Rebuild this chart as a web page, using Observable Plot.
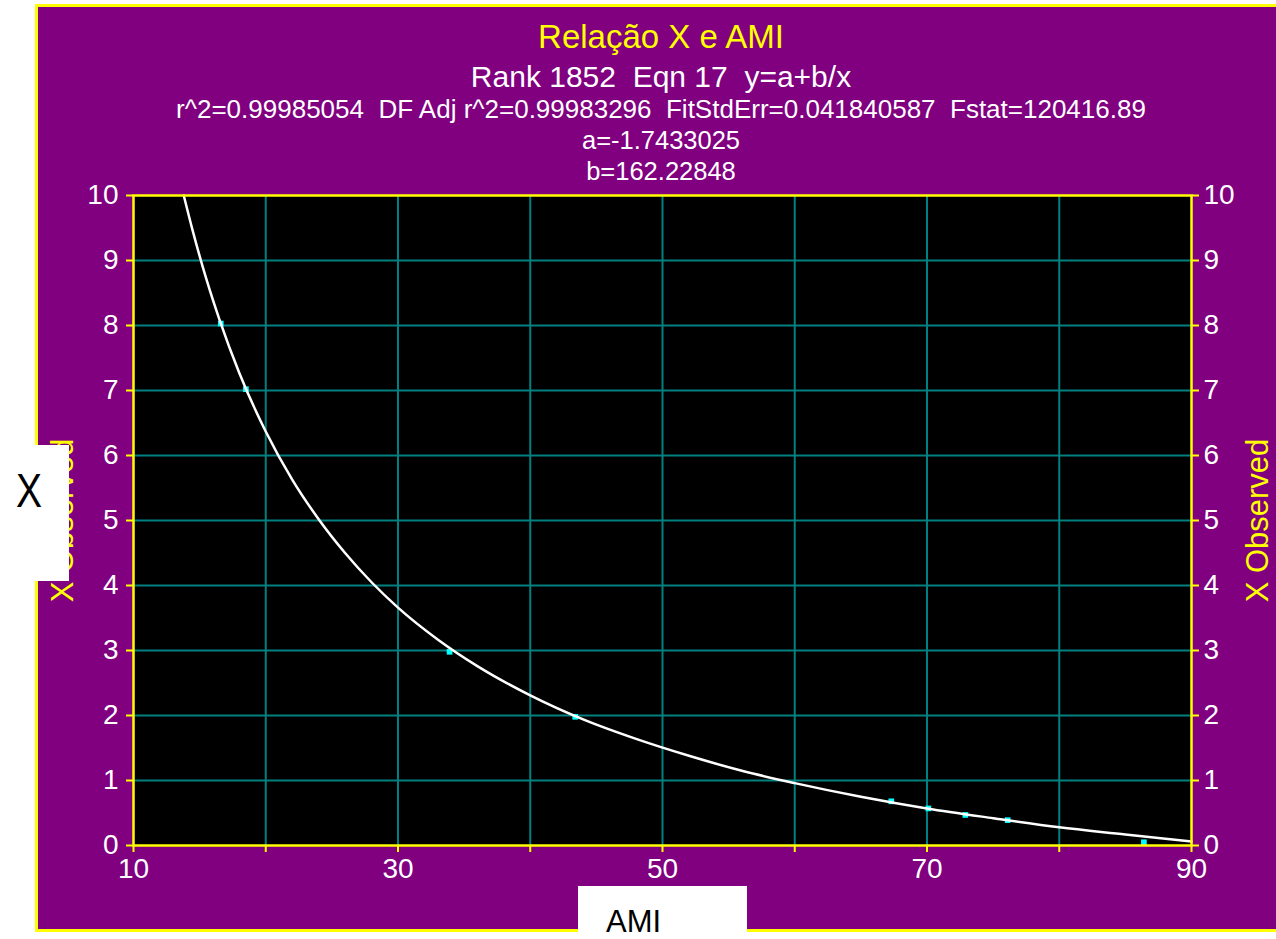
<!DOCTYPE html>
<html>
<head>
<meta charset="utf-8">
<script src="https://cdn.jsdelivr.net/npm/d3@7"></script>
<script src="https://cdn.jsdelivr.net/npm/@observablehq/plot@0.6"></script>
<style>
  html, body { margin: 0; padding: 0; background: #ffffff; width: 1276px; height: 939px; overflow: hidden; }
  body { position: relative; font-family: "Liberation Sans", Arial, sans-serif; }
  #panel { position: absolute; left: 35px; top: 4px; width: 1300px; height: 922px; background: #800080; border: 3px solid #ffff00; }
  .hdr { position: absolute; left: 661px; transform: translateX(-50%); white-space: pre; line-height: 1; color: #ffffff; }
  #chart { position: absolute; left: 38px; top: 185px; width: 1238px; height: 743px; }
  .box { position: absolute; background: #ffffff; overflow: hidden; }
  .boxtxt { position: absolute; white-space: pre; line-height: 1; color: #000000; transform-origin: top left; }
</style>
</head>
<body>
<div id="panel"></div>
<div class="hdr" id="t1" style="top:20px; font-size:33px; color:#ffff00;"></div>
<div class="hdr" id="t2" style="top:62px; font-size:30px;"></div>
<div class="hdr" id="t3" style="top:96px; font-size:26px;"></div>
<div class="hdr" id="t4" style="top:128px; font-size:25.5px;"></div>
<div class="hdr" id="t5" style="top:159px; font-size:25.5px;"></div>
<div id="chart"></div>
<div class="box" style="left:0px; top:445px; width:69px; height:136px;"><span class="boxtxt" id="bx" style="left:16px; top:22px; font-size:39px; transform: scaleY(1.22);"></span></div>
<div class="box" style="left:578px; top:886px; width:169px; height:60px;"><span class="boxtxt" id="by" style="left:28px; top:20px; font-size:31px;"></span></div>
<script>
// ---- text ----
const titleText = "Relação X e AMI";
const subtitleLines = [
  "Rank 1852  Eqn 17  y=a+b/x",
  "r^2=0.99985054  DF Adj r^2=0.99983296  FitStdErr=0.041840587  Fstat=120416.89",
  "a=-1.7433025",
  "b=162.22848"
];
const yAxisLabel = "X Observed";
const boxYLabel = "X";
const boxXLabel = "AMI";

// ---- axes ----
const xTicks = [10, 20, 30, 40, 50, 60, 70, 80, 90];
const xTickLabels = [10, 30, 50, 70, 90];
const yTicks = [0, 1, 2, 3, 4, 5, 6, 7, 8, 9, 10];
const xGrid = [20, 30, 40, 50, 60, 70, 80];
const yGrid = [1, 2, 3, 4, 5, 6, 7, 8, 9];

// ---- fitted curve ----
const curveX = [13.8, 14.5, 15.5, 16.5, 18, 20, 22, 24, 26, 28, 30, 33, 36, 40, 44, 48, 52, 56, 60, 65, 70, 75, 80, 85, 90];
const curveY = [10.0, 9.44, 8.72, 8.09, 7.27, 6.37, 5.63, 5.02, 4.50, 4.05, 3.66, 3.17, 2.76, 2.31, 1.94, 1.64, 1.38, 1.15, 0.96, 0.75, 0.57, 0.42, 0.28, 0.17, 0.06];

// ---- observed points ----
const obsX = [16.6, 18.5, 33.9, 43.4, 67.3, 70.1, 72.9, 76.1, 86.4];
const obsY = [8.03, 7.02, 2.98, 1.98, 0.68, 0.57, 0.47, 0.39, 0.05];

document.getElementById("t1").textContent = titleText;
["t2", "t3", "t4", "t5"].forEach((id, i) => document.getElementById(id).textContent = subtitleLines[i]);
document.getElementById("bx").textContent = boxYLabel;
document.getElementById("by").textContent = boxXLabel;

const curve = curveX.map((x, i) => ({x, y: curveY[i]}));
const obs = obsX.map((x, i) => ({x, y: obsY[i]}));

const YEL = "#ffff00", TEAL = "#008080", FONT = "Liberation Sans, Arial, sans-serif";

const chart = Plot.plot({
  width: 1238,
  height: 743,
  marginLeft: 95,
  marginRight: 85,
  marginTop: 10,
  marginBottom: 83,
  style: {background: "transparent", overflow: "visible", fontFamily: FONT},
  x: {domain: [10, 90]},
  y: {domain: [0, 10]},
  marks: [
    Plot.frame({fill: "black"}),
    Plot.ruleX(xGrid, {x: d => d, stroke: TEAL, strokeWidth: 2}),
    Plot.ruleY(yGrid, {y: d => d, stroke: TEAL, strokeWidth: 2}),
    Plot.dot(obs, {x: "x", y: "y", symbol: "square", r: 3.2, fill: "#00ffff", stroke: null}),
    Plot.line(curve, {x: "x", y: "y", stroke: "white", strokeWidth: 2.5, curve: "monotone-x"}),
    Plot.frame({stroke: YEL, strokeWidth: 2.5}),
    Plot.axisX({ticks: xTicks, tickFormat: d => xTickLabels.includes(d) ? String(d) : "", tickSize: 7, tickPadding: 6,
      stroke: YEL, strokeWidth: 2, fill: "white", fontSize: 28, fontFamily: FONT, label: null}),
    Plot.axisY({anchor: "left", ticks: yTicks, tickFormat: d => String(d), tickSize: 7, tickPadding: 8,
      stroke: YEL, strokeWidth: 2, fill: "white", fontSize: 28, fontFamily: FONT, label: null}),
    Plot.axisY({anchor: "right", ticks: yTicks, tickFormat: d => String(d), tickSize: 7, tickPadding: 5,
      stroke: YEL, strokeWidth: 2, fill: "white", fontSize: 28, fontFamily: FONT, label: null}),
    Plot.text([yAxisLabel], {text: d => d, frameAnchor: "left", dx: -70, rotate: -90, fill: YEL, fontSize: 31, fontFamily: FONT, textAnchor: "middle", lineAnchor: "middle"}),
    Plot.text([yAxisLabel], {text: d => d, frameAnchor: "right", dx: 67, rotate: -90, fill: YEL, fontSize: 31, fontFamily: FONT, textAnchor: "middle", lineAnchor: "middle"})
  ]
});
document.getElementById("chart").appendChild(chart);
</script>
</body>
</html>
